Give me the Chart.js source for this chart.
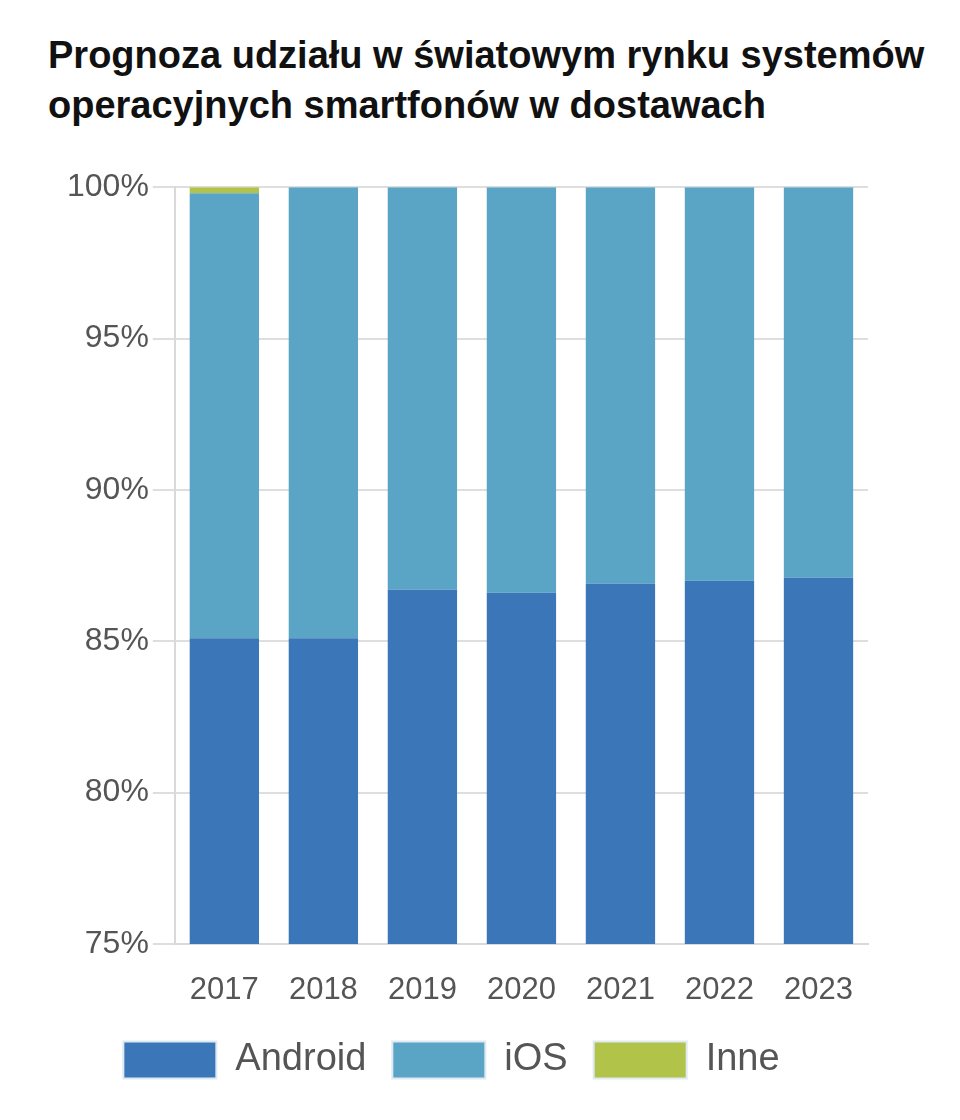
<!DOCTYPE html>
<html>
<head>
<meta charset="utf-8">
<script src="https://cdn.jsdelivr.net/npm/chart.js@4/dist/chart.umd.min.js"></script>
<style>
  body { margin: 0; background: #fff; width: 960px; height: 1120px; overflow: hidden; }
  #title {
    position: absolute; left: 48px; top: 30px; width: 912px;
    font-family: "Liberation Sans", Arial, sans-serif; font-weight: bold;
    font-size: 38px; line-height: 50px; color: #111; white-space: nowrap;
  }
  #wrap { position: absolute; left: 0; top: 164px; width: 960px; height: 925px; }
</style>
</head>
<body>
<div id="title">Prognoza udziału w światowym rynku systemów<br>operacyjnych smartfonów w dostawach</div>
<div id="wrap"><canvas id="chart"></canvas></div>
<script>
var years = ["2017", "2018", "2019", "2020", "2021", "2022", "2023"];
var android = [85.1, 85.1, 86.7, 86.6, 86.9, 87.0, 87.1];
var ios = [14.7, 14.9, 13.3, 13.4, 13.1, 13.0, 12.9];
var inne = [0.2, 0, 0, 0, 0, 0, 0];
var yTicks = [75, 80, 85, 90, 95, 100];

var fontFamily = "'Liberation Sans', Arial, sans-serif";

var ctx = document.getElementById("chart").getContext("2d");
var myChart = new Chart(ctx, {
  type: "bar",
  data: {
    labels: years,
    datasets: [
      { label: "Android", data: android, backgroundColor: "#3a76b8" },
      { label: "iOS", data: ios, backgroundColor: "#5aa5c6" },
      { label: "Inne", data: inne, backgroundColor: "#b2c34a" }
    ]
  },
  options: {
    responsive: true,
    maintainAspectRatio: false,
    animation: false,
    layout: { padding: { top: 14, right: 92, left: 35, bottom: 0 } },
    datasets: { bar: { categoryPercentage: 1.0, barPercentage: 0.7 } },
    plugins: {
      tooltip: { enabled: false },
      legend: {
        position: "bottom",
        labels: {
          boxWidth: 93, boxHeight: 37, padding: 26,
          color: "#555",
          font: { family: fontFamily, size: 38, lineHeight: 1 },
          generateLabels: function(chart) {
            return chart.data.datasets.map(function(ds, i) {
              return {
                text: ds.label, fillStyle: ds.backgroundColor,
                strokeStyle: "#dfe9f2", lineWidth: 2, fontColor: "#555",
                datasetIndex: i, hidden: false
              };
            });
          }
        }
      }
    },
    scales: {
      x: {
        stacked: true,
        grid: { display: false, drawTicks: false },
        border: { display: true, color: "#d9d9d9", width: 2 },
        afterFit: function(axis) { axis.height -= 22; },
        ticks: { color: "#555", padding: 31, font: { family: fontFamily, size: 31, lineHeight: 1 } }
      },
      y: {
        stacked: true,
        min: 75, max: 100,
        afterBuildTicks: function(axis) {
          axis.ticks = yTicks.map(function(v) { return { value: v }; });
        },
        afterFit: function(axis) { axis.width += 28; },
        grid: { color: "#dedede", lineWidth: 2, tickLength: 22 },
        border: { display: true, color: "#d9d9d9", width: 2 },
        ticks: {
          color: "#555", padding: 4,
          font: { family: fontFamily, size: 32 },
          callback: function(v) { return v + "%"; }
        }
      }
    }
  }
});
</script>
</body>
</html>
